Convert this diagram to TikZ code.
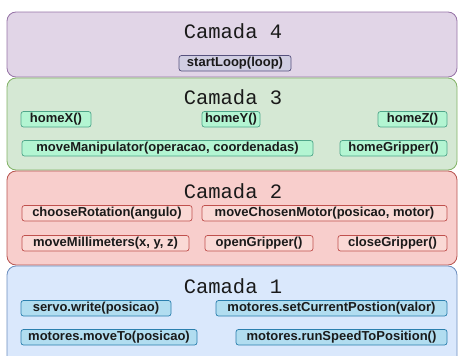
\documentclass[tikz,border=0pt]{standalone}
\usepackage{fontspec}
\setmainfont{Liberation Sans}
\newfontfamily\titlefont{Liberation Mono}
\definecolor{pF}{HTML}{E1D5E7}\definecolor{pD}{HTML}{9673A6}
\definecolor{gF}{HTML}{D5E8D4}\definecolor{gD}{HTML}{82B366}
\definecolor{rF}{HTML}{F8CECC}\definecolor{rD}{HTML}{B85450}
\definecolor{bF}{HTML}{DAE8FC}\definecolor{bD}{HTML}{6C8EBF}
\definecolor{piF}{HTML}{D0CEE2}\definecolor{piD}{HTML}{56517E}
\definecolor{giF}{HTML}{B3F5D2}\definecolor{giD}{HTML}{4FA68A}
\definecolor{riF}{HTML}{FAD9D5}\definecolor{riD}{HTML}{C0504D}
\definecolor{biF}{HTML}{B1DDF0}\definecolor{biD}{HTML}{2B7FAE}
\definecolor{txt}{HTML}{1A1A1A}
\begin{document}
\begin{tikzpicture}[x=1pt,y=-1pt,
  layer/.style={rounded corners=9pt,line width=0.8pt},
  ttl/.style={font=\titlefont\fontsize{20.5}{20.5}\selectfont,text=txt,inner sep=0pt},
  fn/.style={rounded corners=2.5pt,line width=0.7pt},
  fntext/.style={font=\bfseries\fontsize{13}{14}\selectfont,text=txt,inner sep=0pt,anchor=center}]
\useasboundingbox (0,0) rectangle (459,356);
\clip (0,0) rectangle (459,356);
% layers
\draw[layer,fill=pF,draw=pD] (7,12) rectangle (457,77);
\draw[layer,fill=gF,draw=gD] (7,78) rectangle (457,170);
\draw[layer,fill=rF,draw=rD] (7,171) rectangle (457,265);
\draw[layer,fill=bF,draw=bD] (7,266) rectangle (457,380);
% titles
\node[ttl] (t4) at (233,31) {Camada 4};
\node[ttl] (t3) at (233,97) {Camada 3};
\node[ttl] (t2) at (233,191) {Camada 2};
\node[ttl] (t1) at (233,286) {Camada 1};
% layer 4
\draw[fn,fill=piF,draw=piD] (179,55.5) rectangle (291,71) node[fntext,midway] (sl) {startLoop(loop)};
% layer 3
\draw[fn,fill=giF,draw=giD] (21,111.5) rectangle (91,127) node[fntext,midway] (hx) {homeX()};
\draw[fn,fill=giF,draw=giD] (202,111.5) rectangle (260,127) node[fntext,midway] (hy) {homeY()};
\draw[fn,fill=giF,draw=giD] (378,111.5) rectangle (447,127) node[fntext,midway] (hz) {homeZ()};
\draw[fn,fill=giF,draw=giD] (22,140.5) rectangle (313,156) node[fntext,midway] (mm) {moveManipulator(operacao, coordenadas)};
\draw[fn,fill=giF,draw=giD] (340,140.5) rectangle (447,156) node[fntext,midway] (hg) {homeGripper()};
% layer 2
\draw[fn,fill=riF,draw=riD] (22,205.5) rectangle (192,221) node[fntext,midway] (cr) {chooseRotation(angulo)};
\draw[fn,fill=riF,draw=riD] (202,205.5) rectangle (447,221) node[fntext,midway] (mc) {moveChosenMotor(posicao, motor)};
\draw[fn,fill=riF,draw=riD] (22,235.5) rectangle (189,251) node[fntext,midway] (mi) {moveMillimeters(x, y, z)};
\draw[fn,fill=riF,draw=riD] (205,235.5) rectangle (313,251) node[fntext,midway] (og) {openGripper()};
\draw[fn,fill=riF,draw=riD] (338,235.5) rectangle (447,251) node[fntext,midway] (cg) {closeGripper()};
% layer 1
\draw[fn,fill=biF,draw=biD] (21,300.5) rectangle (171,316) node[fntext,midway] (sw) {servo.write(posicao)};
\draw[fn,fill=biF,draw=biD] (216,300.5) rectangle (447,316) node[fntext,midway] (sc) {motores.setCurrentPostion(valor)};
\draw[fn,fill=biF,draw=biD] (21,329.5) rectangle (197,345) node[fntext,midway] (mt) {motores.moveTo(posicao)};
\draw[fn,fill=biF,draw=biD] (236,329.5) rectangle (447,345) node[fntext,midway] (rs) {motores.runSpeedToPosition()};
\end{tikzpicture}
\end{document}
